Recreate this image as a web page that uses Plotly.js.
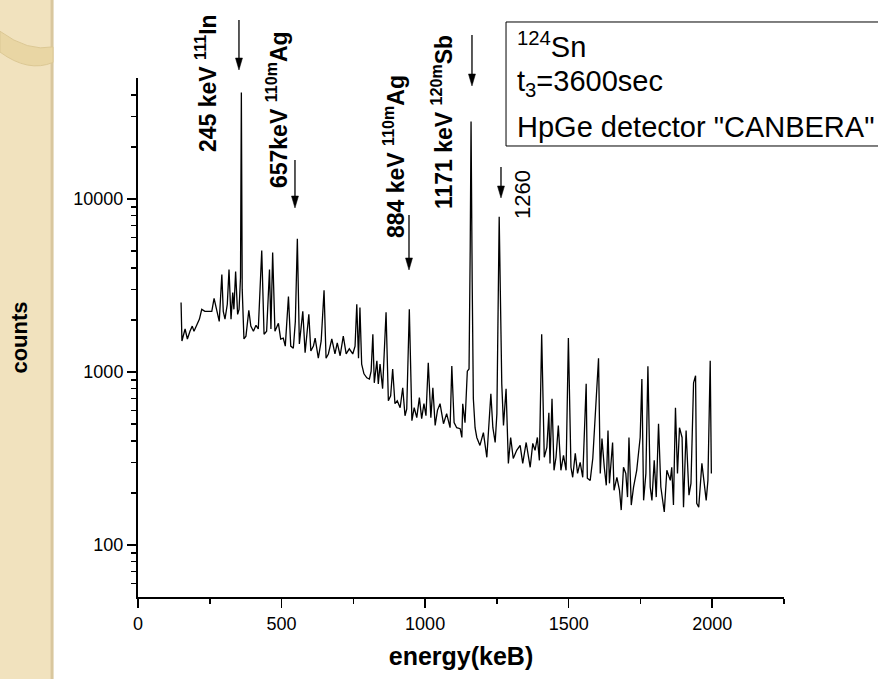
<!DOCTYPE html>
<html>
<head>
<meta charset="utf-8">
<script src="https://cdn.plot.ly/plotly-3.0.1.min.js"></script>
<style>html,body{margin:0;padding:0;background:#fff;}#chart{width:878px;height:679px;}</style>
</head>
<body>
<div id="chart"></div>
<script>
// Spectrum (energy in keV, counts)
var energy = [150,153,164,172,181,189,195,204,214,222,233,245,257,265,274,283,292,297,303,311,
  317,324,330,334,340,347,352,357,360,363,369,376,386,393,402,411,419,431,439,448,
  458,463,469,477,489,497,506,513,524,532,541,548,555,562,574,582,595,602,611,617,
  628,638,648,655,663,675,686,694,704,715,725,736,748,756,762,768,773,779,787,797,
  806,812,818,823,832,837,843,852,864,872,880,887,895,903,913,922,930,936,945,954,
  962,971,980,988,996,1003,1011,1020,1027,1035,1043,1052,1064,1075,1087,1093,1101,1110,1122,1128,
  1131,1139,1147,1153,1157,1160,1164,1168,1174,1180,1191,1203,1215,1221,1229,1236,1244,1250,1254,1258,
  1262,1267,1273,1282,1290,1298,1307,1319,1331,1340,1352,1366,1375,1383,1391,1398,1406,1415,1424,1431,
  1435,1442,1449,1456,1464,1473,1482,1491,1499,1508,1514,1523,1531,1540,1549,1561,1565,1575,1584,1592,
  1604,1610,1616,1624,1631,1637,1642,1653,1658,1668,1677,1683,1691,1699,1705,1710,1718,1726,1737,1749,
  1755,1761,1769,1776,1784,1790,1798,1805,1813,1821,1833,1842,1854,1859,1865,1872,1879,1886,1895,1900,
  1909,1919,1926,1935,1942,1946,1953,1964,1972,1979,1985,1993,1997];
var counts = [2520,1510,1770,1550,1720,1840,1720,1840,2020,2300,2240,2240,2240,2660,2240,1960,3660,2240,2020,2460,
  3910,2020,2880,2300,3800,2150,2300,3500,41200,3000,1550,1610,2270,1840,1720,1860,1770,5030,1650,1720,
  3910,1770,4900,1720,1910,1550,1570,1410,2730,1410,1370,1960,5890,1450,2240,1290,2150,1320,1410,1570,
  1200,1510,2960,1200,1270,1550,1270,1470,1240,1610,1270,1360,1270,1410,2460,1200,2360,1110,975,925,
  910,1010,1650,865,1160,853,1110,800,2210,681,728,1040,655,681,621,810,558,612,2300,523,
  621,544,710,537,655,558,1130,544,810,490,600,655,502,574,476,1080,509,476,470,418,
  655,509,1010,1040,5000,28000,3300,700,476,418,376,446,321,458,748,476,391,574,2550,7880,
  2920,853,490,800,296,418,316,352,376,296,391,281,386,352,418,308,1650,321,366,581,
  296,700,270,321,490,270,329,270,1570,281,246,338,259,300,246,853,243,236,316,544,
  1200,259,412,281,221,458,227,391,207,246,207,159,281,259,189,418,170,216,270,418,
  910,181,259,1080,216,181,308,189,502,216,155,270,236,281,170,621,259,476,418,165,
  458,194,227,865,950,174,165,296,236,181,236,1160,259];

// Axis ticks
var xTicks = [0, 500, 1000, 1500, 2000];
var xMinor = [250, 750, 1250, 1750, 2250];
var yTicks = [100, 1000, 10000];
var yMinor = [60,70,80,90,200,300,400,500,600,700,800,900,2000,3000,4000,5000,6000,7000,8000,9000,20000,30000,40000];

// Peak labels
var peakLabels = ['245 keV <sup>111</sup>In', '657keV <sup>110m</sup>Ag', '884 keV <sup>110m</sup>Ag', '1171 keV <sup>120m</sup>Sb', '1260'];
var infoLines = ['<sup>124</sup>Sn', 't<sub>3</sub>=3600sec', 'HpGe detector "CANBERA"'];

var FONT = 'Arial, "Liberation Sans", sans-serif';

var trace = {
  x: energy, y: counts, type: 'scatter', mode: 'lines',
  line: {color: '#000', width: 1.3}, hoverinfo: 'x+y'
};

// layout positions (paper coords)
var PW = 646, PH = 519; // plot area size in px
var labelPos = [[0.1053,0.9904,true],[0.2152,0.9383,true],[0.3963,0.8478,true],[0.4706,0.9152,true],[0.5960,0.7746,false]];
var arrowPos = [[0.1563,1.0154,50],[0.2430,0.7495,48],[0.4195,0.6301,55],[0.5170,0.9846,51],[0.5619,0.7688,31]];
var infoY = [1.0636, 0.9904, 0.9056];

var annotations = [];
peakLabels.forEach(function(t, i){
  var p = labelPos[i];
  annotations.push({xref:'paper', yref:'paper', x:p[0], y:p[1], text: p[2] ? '<b>'+t+'</b>' : t,
    textangle:-90, showarrow:false, xanchor:'center', yanchor:'middle',
    font:{family:FONT, size: p[2]?23:22, color:'#000'}});
});
infoLines.forEach(function(t, i){
  annotations.push({xref:'paper', yref:'paper', x:0.5836, y:infoY[i], text:t, showarrow:false,
    xanchor:'left', yanchor:'middle', font:{family:FONT, size:29, color:'#000'}});
});

var shapes = [
  // decorative left strip
  {type:'rect', xref:'paper', yref:'paper', x0:-0.2136, x1:-0.1316, y0:-0.16, y1:1.16,
   fillcolor:'#F1E2BE', line:{width:0}, layer:'below'},
  {type:'line', xref:'paper', yref:'paper', x0:-0.1330, x1:-0.1330, y0:-0.16, y1:1.16,
   line:{color:'#D9C79E', width:3}, layer:'below'},
  {type:'path', xref:'paper', yref:'paper',
   path:'M -0.2136 1.09 Q -0.17 1.05 -0.1316 1.06 L -0.1316 1.03 Q -0.17 1.01 -0.2136 1.05 Z',
   fillcolor:'#E9D6A4', line:{color:'#DCC894', width:1}, layer:'below'},
  // info box
  {type:'rect', xref:'paper', yref:'paper', x0:0.5697, x1:1.18, y0:0.869, y1:1.1079,
   line:{color:'#000', width:1}, fillcolor:'rgba(0,0,0,0)'}
];
// arrows: shaft + filled head
arrowPos.forEach(function(a){
  var hx = 3.5 / PW, hl = 12 / PH;
  shapes.push({type:'line', xref:'paper', yref:'paper', x0:a[0], x1:a[0], y0:a[1] + a[2]/PH, y1:a[1] + hl*0.5,
    line:{color:'#000', width:1.3}});
  shapes.push({type:'path', xref:'paper', yref:'paper',
    path:'M '+(a[0]-hx)+' '+(a[1]+hl)+' L '+(a[0]+hx)+' '+(a[1]+hl)+' L '+a[0]+' '+a[1]+' Z',
    fillcolor:'#000', line:{color:'#000', width:0.5}});
});

var layout = {
  width:878, height:679,
  margin:{l:138, r:94, t:78, b:82},
  paper_bgcolor:'#fff', plot_bgcolor:'#fff',
  showlegend:false,
  font:{family:FONT, color:'#000'},
  xaxis:{
    range:[0,2250], showgrid:false, zeroline:false,
    showline:true, linecolor:'#000', linewidth:2,
    ticks:'outside', ticklen:9, tickwidth:1.5, tickcolor:'#000',
    tickmode:'array', tickvals:xTicks, ticktext:xTicks.map(String),
    minor:{tickmode:'array', tickvals:xMinor, ticks:'outside', ticklen:5, tickwidth:1.5, tickcolor:'#000'},
    tickfont:{family:FONT, size:18, color:'#000'},
    title:{text:'<b>energy(keB)</b>', font:{family:FONT, size:25, color:'#000'}, standoff:15},
    automargin:false
  },
  yaxis:{
    type:'log', range:[Math.log10(50), Math.log10(50000)],
    showgrid:false, zeroline:false,
    showline:true, linecolor:'#000', linewidth:2,
    ticks:'outside', ticklen:9, tickwidth:1.5, tickcolor:'#000',
    tickmode:'array', tickvals:yTicks, ticktext:yTicks.map(String),
    minor:{tickmode:'array', tickvals:yMinor, ticks:'outside', ticklen:5, tickwidth:1.5, tickcolor:'#000'},
    tickfont:{family:FONT, size:18, color:'#000'},
    title:{text:'<b>counts</b>', font:{family:FONT, size:22, color:'#000'}, standoff:40},
    automargin:false
  },
  annotations:annotations,
  shapes:shapes
};

Plotly.newPlot('chart', [trace], layout, {displayModeBar:false, staticPlot:true});
</script>
</body>
</html>
